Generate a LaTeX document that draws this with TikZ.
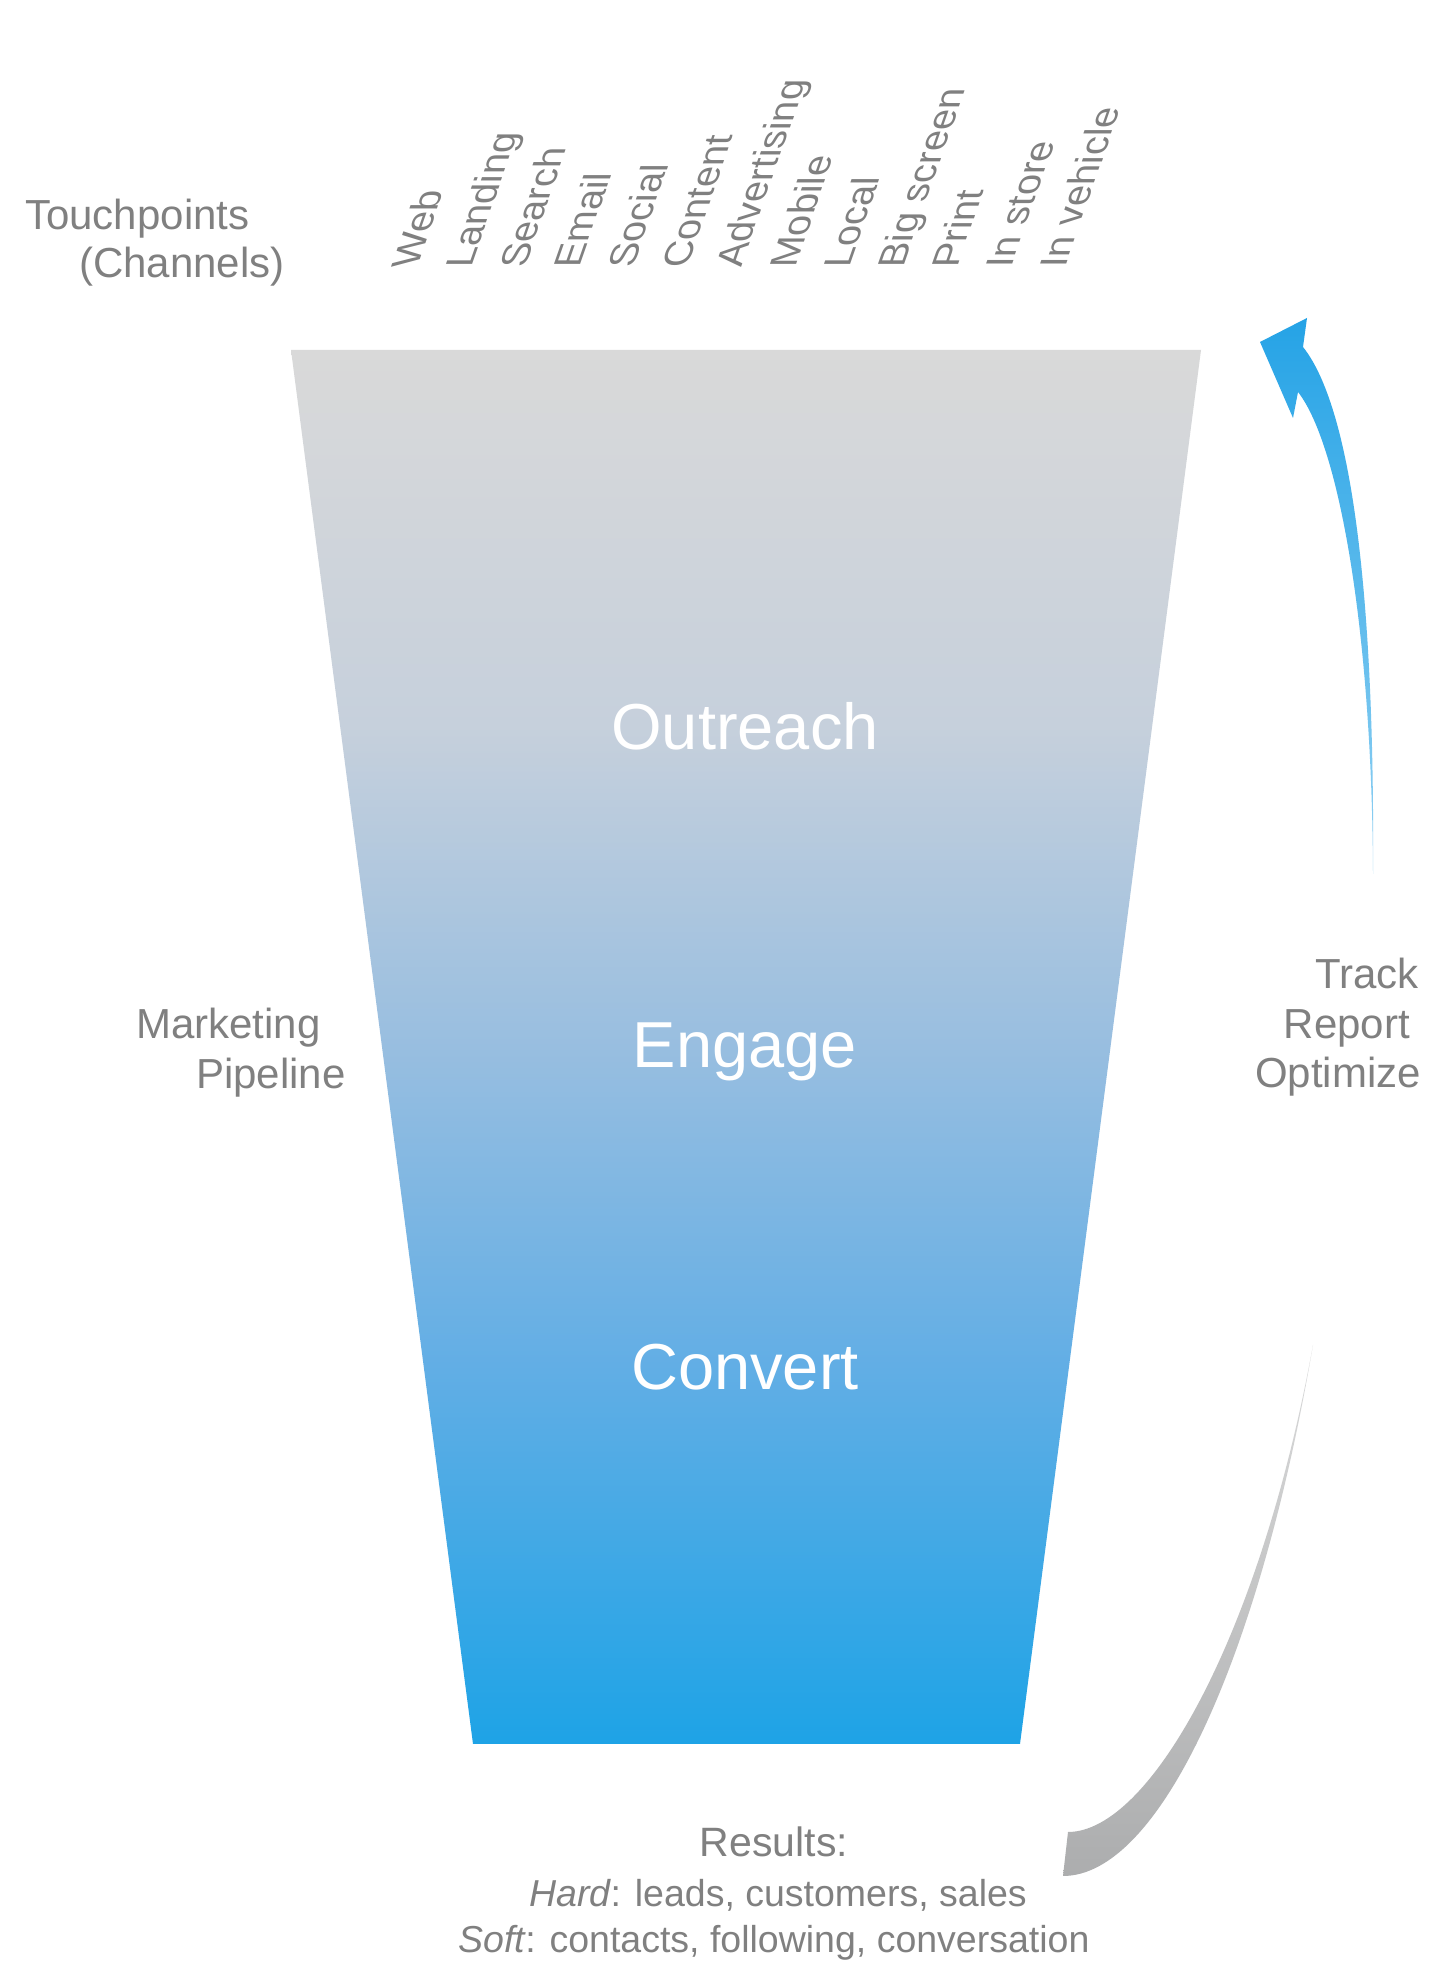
\documentclass[tikz,border=0pt]{standalone}
\usepackage{fontspec}
\setmainfont{Liberation Sans}
\definecolor{txtgray}{RGB}{128,128,128}
\definecolor{fb0}{RGB}{30,163,230}
\definecolor{fb1}{RGB}{98,174,229}
\definecolor{fb2}{RGB}{152,190,224}
\definecolor{fb3}{RGB}{198,208,220}
\definecolor{fb4}{RGB}{217,217,217}
\definecolor{arrowblue}{RGB}{37,163,230}
\definecolor{arrowgray}{RGB}{172,173,174}
\pgfdeclareverticalshading{funnelshade}{100bp}{color(0bp)=(fb0); color(25bp)=(fb0); color(38.6bp)=(fb1); color(50bp)=(fb2); color(61.5bp)=(fb3); color(75bp)=(fb4); color(100bp)=(fb4)}
\tikzset{
  side/.style={text=txtgray, font=\fontsize{42}{50}\selectfont, inner sep=0pt},
  res/.style={text=txtgray, font=\fontsize{37.5}{46}\selectfont, inner sep=0pt, anchor=base},
  chan/.style={text=txtgray, font=\fontsize{38}{46}\selectfont, inner sep=0pt, transform shape, anchor=base west},
  stage/.style={text=white, font=\fontsize{65}{78}\selectfont, inner sep=0pt, anchor=base}
}
\begin{document}
\begin{tikzpicture}[x=1pt,y=1pt]
\useasboundingbox (0,0) rectangle (1448,1986);
\fill[white] (0,0) rectangle (1448,1986);

% funnel
\coordinate (ftl) at (291,1636);
\coordinate (ftr) at (1201,1636);
\coordinate (fbr) at (1020,242);
\coordinate (fbl) at (473,242);
\shade[shading=funnelshade] (ftl) -- (ftr) -- (fbr) -- (fbl) -- cycle;

\node[stage] (outreach) at (745,1236) {Outreach};
\node[stage] (engage) at (745,918) {Engage};
\node[stage] (convert) at (745,596) {Convert};

% channel labels
\foreach \t [count=\i from 0] in {Web,Landing,Search,Email,Social,Content,Advertising,Mobile,Local,Big screen,Print,In store,In vehicle}{
  \begin{scope}[shift={(417+54*\i,1718)}, cm={0.35,1,-1,0,(0,0)}]
    \node[chan] (ch\i) at (0,0) {\t};
  \end{scope}
}

% side labels
\node[side, anchor=base west] (tp) at (25,1756) {Touchpoints};
\node[side, anchor=base west] (chn) at (79,1708) {(Channels)};
\node[side, anchor=base west] (mkt) at (136,947) {Marketing};
\node[side, anchor=base west] (pip) at (196,897) {Pipeline};
\node[side, anchor=base east] (trk) at (1419,997) {Track};
\node[side, anchor=base east] (rep) at (1410,947) {Report};
\node[side, anchor=base east] (opt) at (1421,898) {Optimize};

% results
\node[res, font=\fontsize{41}{48}\selectfont] (results) at (774,129) {Results:};
\node[res] (hard) at (778,79) {{\itshape Hard}: leads, customers, sales};
\node[res] (soft) at (774,33) {{\itshape Soft}: contacts, following, conversation};

% blue arrow
\coordinate (btip) at (1260,1644);
\coordinate (btop) at (1307,1668);
\coordinate (bbarb) at (1293,1568);
\coordinate (bn1) at (1303,1639);
\coordinate (bn2) at (1298,1594);
\coordinate (btail) at (1373,1112);
\shade[top color=arrowblue, middle color=arrowblue!92!white, bottom color=arrowblue!50!white]
  (bn1) .. controls (1350,1580) and (1375,1400) .. (btail)
  .. controls (1372,1350) and (1340,1540) .. (bn2)
  -- (bbarb) -- (btip) -- (btop) -- cycle;

% gray arrow
\coordinate (gtop) at (1313,641);
\coordinate (gend1) at (1063,110);
\coordinate (gend2) at (1068,154);
\shade[top color=arrowgray!45!white, middle color=arrowgray!97!white, bottom color=arrowgray]
  (gtop) .. controls (1260,330) and (1160,110) .. (gend1)
  -- (gend2) .. controls (1150,154) and (1260,350) .. (gtop) -- cycle;
\end{tikzpicture}
\end{document}
